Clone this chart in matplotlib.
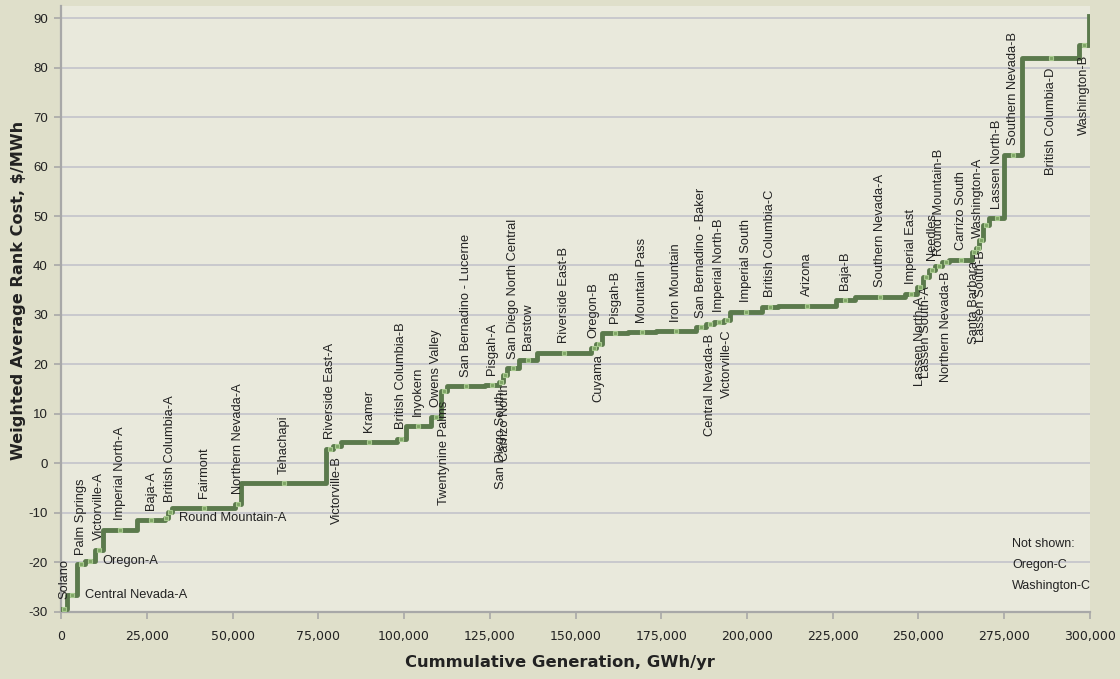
import numpy as np
import matplotlib
matplotlib.use("Agg")
import matplotlib.pyplot as plt
from matplotlib.ticker import FuncFormatter

# supply curve blocks, in ranked order
zones = [
    "Solano", "Central Nevada-A", "Palm Springs", "Oregon-A", "Victorville-A",
    "Imperial North-A", "Baja-A", "Round Mountain-A", "British Columbia-A", "Fairmont",
    "Northern Nevada-A", "Tehachapi", "Riverside East-A", "Victorville-B", "Kramer",
    "British Columbia-B", "Inyokern", "Owens Valley", "Twentynine Palms",
    "San Bernadino - Lucerne", "Pisgah-A", "San Diego South", "Carrizo North",
    "San Diego North Central", "Barstow", "Riverside East-B", "Oregon-B", "Cuyama",
    "Pisgah-B", "Mountain Pass", "Iron Mountain", "San Bernadino - Baker",
    "Central Nevada-B", "Imperial North-B", "Victorville-C", "Imperial South",
    "British Columbia-C", "Arizona", "Baja-B", "Southern Nevada-A", "Imperial East",
    "Lassen North-A", "Lassen South-A", "Needles", "Round Mountain-B",
    "Northern Nevada-B", "Carrizo South", "Santa Barbara", "Washington-A",
    "Lassen South-B", "", "Lassen North-B", "Southern Nevada-B", "British Columbia-D",
    "Washington-B",
]
gen_gwh = [
    1750, 2900, 2300, 2900, 2300,
    9900, 8200, 900, 1200, 18400,
    1750, 24800, 2000, 2300, 16300,
    2600, 7300, 2900, 1750,
    11100, 4100, 1200, 1200,
    3500, 5300, 15800, 1200, 1750,
    7600, 8200, 11700, 2900,
    2300, 2900, 1750, 9300,
    4700, 16900, 5500, 14600, 3500,
    1750, 1750, 2000, 2000,
    2000, 6700, 1200, 900,
    1200, 1600, 4400, 5300, 16600,
    2900,
]
cost = [
    -29.3, -26.6, -20.4, -19.6, -17.5,
    -13.4, -11.4, -11.0, -9.8, -9.0,
    -8.2, -4.0, 2.9, 3.5, 4.4,
    5.0, 7.6, 9.4, 14.6,
    15.6, 15.9, 16.5, 17.9,
    19.2, 20.9, 22.3, 23.3, 24.1,
    26.4, 26.5, 26.7, 27.5,
    28.2, 28.6, 29.0, 30.6,
    31.6, 31.9, 33.0, 33.6, 34.2,
    35.7, 37.7, 39.1, 39.9,
    40.7, 41.1, 42.8, 43.5,
    45.1, 48.2, 49.5, 62.3, 81.9,
    84.5,
]
# where each name sits: a = above, b = below, r = to the right
label_side = [
    "a", "r", "a", "r", "a",
    "a", "a", "r", "a", "a",
    "a", "a", "a", "b", "a",
    "a", "a", "a", "b",
    "a", "a", "b", "b",
    "a", "a", "a", "a", "b",
    "a", "a", "a", "a",
    "b", "a", "b", "a",
    "a", "a", "a", "a", "a",
    "b", "b", "a", "a",
    "b", "a", "b", "a",
    "b", "", "a", "a", "b",
    "b",
]
tail_cost = 90.5  # next block (off the chart)

edges = np.concatenate([[0], np.cumsum(gen_gwh)])
mids = (edges[:-1] + edges[1:]) / 2

plt.rcParams["font.family"] = ["Liberation Sans", "DejaVu Sans"]
plt.rcParams["axes.unicode_minus"] = False

fig = plt.figure(figsize=(11.2, 6.79), dpi=100, facecolor="#dfdfca")
ax = fig.add_axes([0.0545, 0.0987, 0.9187, 0.893])
ax.set_facecolor("#e9e9dc")

# supply curve
ax.step(edges, list(cost) + [tail_cost], where="post", color="#5b7a4c",
        lw=3.5, zorder=3)
ax.plot(mids, cost, "s", ms=3.4, mfc="#7fa566", mec="#a9cb90", mew=0.8, zorder=4)

# zone names
for name, x, y, side in zip(zones, mids, cost, label_side):
    if not name:
        continue
    if side == "a":
        ax.annotate(name, (x, y), xytext=(0, 7), textcoords="offset points",
                    rotation=90, ha="center", va="bottom", fontsize=9.3, color="#222222")
    elif side == "b":
        ax.annotate(name, (x, y), xytext=(0, -7), textcoords="offset points",
                    rotation=90, ha="center", va="top", fontsize=9.3, color="#222222")
    else:
        ax.annotate(name, (x, y), xytext=(9, 0), textcoords="offset points",
                    ha="left", va="center", fontsize=9.3, color="#222222")

fig.text(0.9036, 0.207, "Not shown:\nOregon-C\nWashington-C",
         ha="left", va="top", fontsize=9, color="#222222", linespacing=2.0)

# axes
ax.set_xlim(0, 300000)
ax.set_ylim(-30, 92.5)
ax.set_xticks(np.arange(0, 300001, 25000))
ax.set_yticks(np.arange(-30, 91, 10))
ax.xaxis.set_major_formatter(FuncFormatter(lambda v, p: f"{int(v):,}"))
ax.grid(axis="y", color="#c3c3cb", lw=1.2)
ax.set_axisbelow(True)
for s in ["top", "right"]:
    ax.spines[s].set_visible(False)
for s in ["left", "bottom"]:
    ax.spines[s].set_color("#a8a8a8")
    ax.spines[s].set_linewidth(1.6)
ax.tick_params(direction="out", length=5, width=1.2, color="#a8a8a8",
               labelcolor="#222222")
ax.tick_params(axis="x", labelsize=9, pad=8)
ax.tick_params(axis="y", labelsize=9.5, pad=4.5)
for t in ax.get_xticklabels():
    t.set_family("DejaVu Sans")

ax.set_xlabel("Cummulative Generation, GWh/yr", fontsize=11.8, fontweight="bold",
              family="DejaVu Sans", color="#222222", va="center")
ax.set_ylabel("Weighted Average Rank Cost, $/MWh", fontsize=11.6, fontweight="bold",
              family="DejaVu Sans", color="#222222", va="center")
ax.xaxis.set_label_coords(0.485, -0.083)
ax.yaxis.set_label_coords(-0.041, 0.531)

fig.savefig("out.png", dpi=100, facecolor=fig.get_facecolor())
